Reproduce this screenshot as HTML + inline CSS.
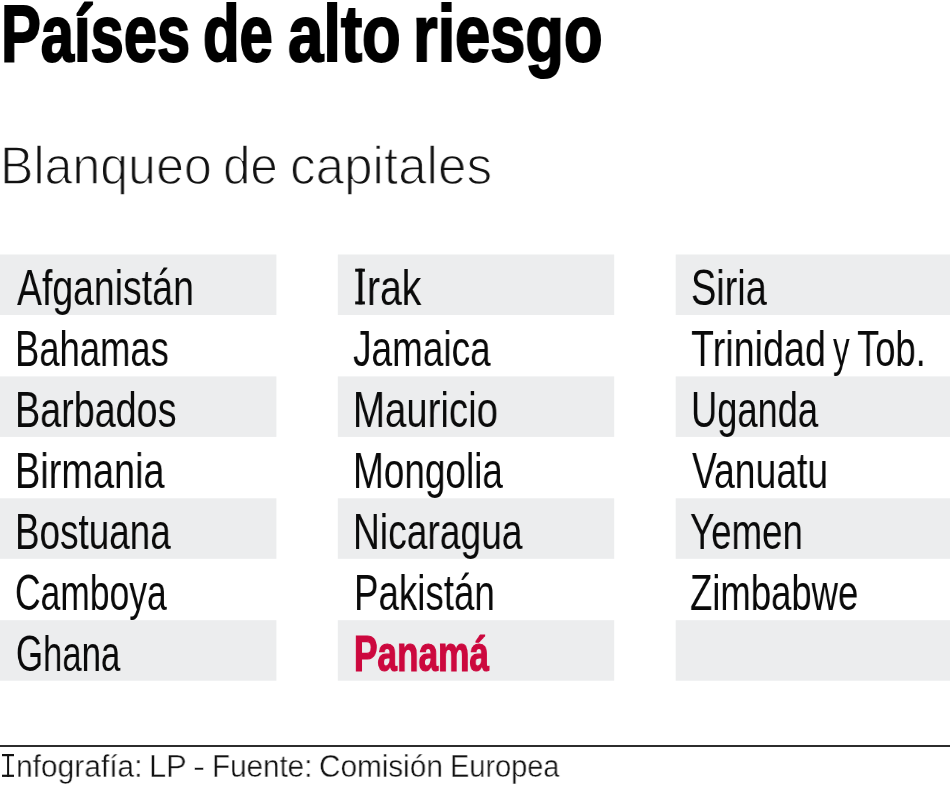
<!DOCTYPE html>
<html><head><meta charset="utf-8"><style>
html,body{margin:0;padding:0;background:#fff;width:950px;height:792px;overflow:hidden;}
body{position:relative;font-family:"Liberation Sans",sans-serif;}
.t{position:absolute;white-space:nowrap;transform-origin:0 0;line-height:1;will-change:transform;}
.b{position:absolute;background:#ecedee;}
.line{position:absolute;left:0;top:745px;width:950px;height:2px;background:#2c2c2c;}
</style></head><body>
<svg width="950" height="792" style="position:absolute;left:0;top:0"><g fill="#ecedee">
<rect x="0" y="254.5" width="276.4" height="60.5"/>
<rect x="0" y="376.4" width="276.4" height="60.5"/>
<rect x="0" y="498.3" width="276.4" height="60.5"/>
<rect x="0" y="620.2" width="276.4" height="60.5"/>
<rect x="337.8" y="254.5" width="276.4" height="60.5"/>
<rect x="337.8" y="376.4" width="276.4" height="60.5"/>
<rect x="337.8" y="498.3" width="276.4" height="60.5"/>
<rect x="337.8" y="620.2" width="276.4" height="60.5"/>
<rect x="675.7" y="254.5" width="274.3" height="60.5"/>
<rect x="675.7" y="376.4" width="274.3" height="60.5"/>
<rect x="675.7" y="498.3" width="274.3" height="60.5"/>
<rect x="675.7" y="620.2" width="274.3" height="60.5"/>
</g></svg>
<div class="t" style="left:1.22px;top:-6.50px;font-size:80px;font-weight:bold;color:#000;transform:scaleX(0.7462);-webkit-text-stroke:2px #000;">Países</div>
<div class="t" style="left:203.40px;top:-6.50px;font-size:80px;font-weight:bold;color:#000;transform:scaleX(0.7489);-webkit-text-stroke:2px #000;">de</div>
<div class="t" style="left:287.91px;top:-6.50px;font-size:80px;font-weight:bold;color:#000;transform:scaleX(0.7935);-webkit-text-stroke:2px #000;">alto</div>
<div class="t" style="left:413.14px;top:-6.50px;font-size:80px;font-weight:bold;color:#000;transform:scaleX(0.7893);-webkit-text-stroke:2px #000;">riesgo</div>
<div class="t" style="left:-0.24px;top:138.00px;font-size:54px;font-weight:normal;color:#111;transform:scaleX(0.9277);-webkit-text-stroke:1.4px #fff;">Blanqueo</div>
<div class="t" style="left:223.17px;top:138.00px;font-size:54px;font-weight:normal;color:#111;transform:scaleX(0.9111);-webkit-text-stroke:1.4px #fff;">de</div>
<div class="t" style="left:289.66px;top:138.00px;font-size:54px;font-weight:normal;color:#111;transform:scaleX(0.9481);-webkit-text-stroke:1.4px #fff;">capitales</div>
<div class="t" style="left:16.47px;top:750.80px;font-size:31px;font-weight:normal;color:#111;transform:scaleX(0.9659);-webkit-text-stroke:0.4px #fff;">nfografía:</div>
<div class="t" style="left:149.13px;top:750.80px;font-size:31px;font-weight:normal;color:#111;transform:scaleX(0.9909);-webkit-text-stroke:0.4px #fff;">LP</div>
<div class="t" style="left:192.96px;top:750.80px;font-size:31px;font-weight:normal;color:#111;transform:scaleX(1.1714);-webkit-text-stroke:0.4px #fff;">-</div>
<div class="t" style="left:212.34px;top:750.80px;font-size:31px;font-weight:normal;color:#111;transform:scaleX(0.9545);-webkit-text-stroke:0.4px #fff;">Fuente:</div>
<div class="t" style="left:319.08px;top:750.80px;font-size:31px;font-weight:normal;color:#111;transform:scaleX(0.9584);-webkit-text-stroke:0.4px #fff;">Comisión</div>
<div class="t" style="left:450.40px;top:750.80px;font-size:31px;font-weight:normal;color:#111;transform:scaleX(0.9333);-webkit-text-stroke:0.4px #fff;">Europea</div>
<div class="t" style="left:17.00px;top:262.50px;font-size:49.5px;font-weight:normal;color:#0a0a0a;transform:scaleX(0.7558);">Afganistán</div>
<div class="t" style="left:15.26px;top:323.50px;font-size:49.5px;font-weight:normal;color:#0a0a0a;transform:scaleX(0.7360);">Bahamas</div>
<div class="t" style="left:15.15px;top:384.50px;font-size:49.5px;font-weight:normal;color:#0a0a0a;transform:scaleX(0.7621);">Barbados</div>
<div class="t" style="left:15.14px;top:445.50px;font-size:49.5px;font-weight:normal;color:#0a0a0a;transform:scaleX(0.7660);">Birmania</div>
<div class="t" style="left:15.02px;top:506.50px;font-size:49.5px;font-weight:normal;color:#0a0a0a;transform:scaleX(0.7444);">Bostuana</div>
<div class="t" style="left:15.15px;top:567.50px;font-size:49.5px;font-weight:normal;color:#0a0a0a;transform:scaleX(0.7163);">Camboya</div>
<div class="t" style="left:15.90px;top:628.50px;font-size:49.5px;font-weight:normal;color:#0a0a0a;transform:scaleX(0.7020);">Ghana</div>
<div class="t" style="left:366.73px;top:262.50px;font-size:49.5px;font-weight:normal;color:#0a0a0a;transform:scaleX(0.7894);">rak</div>
<div class="t" style="left:353.15px;top:323.50px;font-size:49.5px;font-weight:normal;color:#0a0a0a;transform:scaleX(0.7470);">Jamaica</div>
<div class="t" style="left:353.10px;top:384.50px;font-size:49.5px;font-weight:normal;color:#0a0a0a;transform:scaleX(0.7751);">Mauricio</div>
<div class="t" style="left:353.21px;top:445.50px;font-size:49.5px;font-weight:normal;color:#0a0a0a;transform:scaleX(0.7467);">Mongolia</div>
<div class="t" style="left:353.19px;top:506.50px;font-size:49.5px;font-weight:normal;color:#0a0a0a;transform:scaleX(0.7514);">Nicaragua</div>
<div class="t" style="left:353.93px;top:567.50px;font-size:49.5px;font-weight:normal;color:#0a0a0a;transform:scaleX(0.7421);">Pakistán</div>
<div class="t" style="left:353.87px;top:628.50px;font-size:49.5px;font-weight:bold;color:#cc083e;transform:scaleX(0.7112);-webkit-text-stroke:1.2px #cc083e;">Panamá</div>
<div class="t" style="left:690.57px;top:262.50px;font-size:49.5px;font-weight:normal;color:#0a0a0a;transform:scaleX(0.7649);">Siria</div>
<div class="t" style="left:691.14px;top:323.50px;font-size:49.5px;font-weight:normal;color:#0a0a0a;transform:scaleX(0.7618);">Trinidad</div>
<div class="t" style="left:833.20px;top:323.50px;font-size:49.5px;font-weight:normal;color:#0a0a0a;transform:scaleX(0.6720);">y</div>
<div class="t" style="left:857.16px;top:323.50px;font-size:49.5px;font-weight:normal;color:#0a0a0a;transform:scaleX(0.7352);">Tob.</div>
<div class="t" style="left:690.77px;top:384.50px;font-size:49.5px;font-weight:normal;color:#0a0a0a;transform:scaleX(0.7331);">Uganda</div>
<div class="t" style="left:691.90px;top:445.50px;font-size:49.5px;font-weight:normal;color:#0a0a0a;transform:scaleX(0.7531);">Vanuatu</div>
<div class="t" style="left:690.46px;top:506.50px;font-size:49.5px;font-weight:normal;color:#0a0a0a;transform:scaleX(0.7412);">Yemen</div>
<div class="t" style="left:690.43px;top:567.50px;font-size:49.5px;font-weight:normal;color:#0a0a0a;transform:scaleX(0.7371);">Zimbabwe</div>
<div class="line"></div>
<svg width="950" height="792" style="position:absolute;left:0;top:0">
<g fill="#0a0a0a">
<rect x="355.2" y="268.7" width="9.7" height="3"/><rect x="355.2" y="301.4" width="9.7" height="3"/><rect x="358.5" y="268.7" width="3.9" height="35.7"/>
</g>
<g fill="#111">
<rect x="2" y="754" width="12" height="2.2"/><rect x="2" y="774.7" width="12" height="2.2"/><rect x="7.1" y="754" width="2" height="22.9"/>
</g>
</svg>
</body></html>
